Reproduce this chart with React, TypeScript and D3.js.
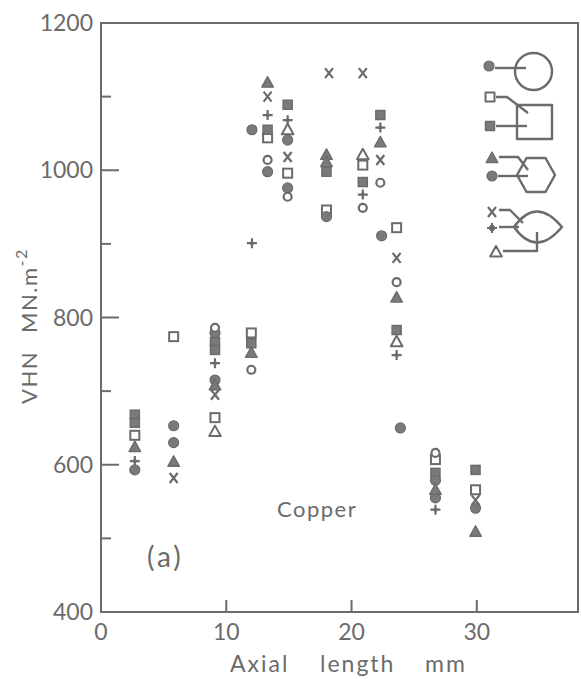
import React from 'react';
import * as d3 from 'd3';

// ---- axis ticks ----
const xTickValues = [10, 20, 30];
const xTickLabels = ['0', '10', '20', '30'];
const yTickValues = [400, 600, 800, 1000, 1200];
const yMajorInner = [600, 800, 1000];
const yMinorTicks = [500, 700, 900, 1100];

// ---- data: [axial length mm, VHN] per marker type ----
const filledCircle: [number, number][] = [
  [2.7, 593], [5.8, 653], [5.8, 630], [9.1, 779], [9.1, 715], [12.05, 1055],
  [13.3, 998], [14.9, 1041], [14.9, 976], [18.0, 937], [22.4, 911], [23.9, 650],
  [26.7, 579], [26.7, 555], [29.9, 541],
];
const openCircle: [number, number][] = [
  [9.1, 786], [12.0, 729], [13.3, 1014], [14.9, 964], [20.9, 949], [22.3, 983],
  [23.6, 848], [26.7, 616],
];
const openSquare: [number, number][] = [
  [2.7, 640], [5.8, 774], [9.1, 664], [12.0, 779], [13.3, 1044], [14.9, 996],
  [18.0, 946], [20.9, 1007], [23.6, 922], [26.7, 607], [29.9, 566],
];
const filledSquare: [number, number][] = [
  [2.7, 668], [2.7, 657], [9.1, 767], [9.1, 756], [12.0, 765], [13.3, 1055],
  [14.9, 1089], [18.0, 998], [20.9, 984], [22.3, 1075], [23.6, 783], [26.7, 589],
  [29.9, 593],
];
const filledTriangle: [number, number][] = [
  [2.7, 624], [5.8, 604], [9.1, 708], [12.0, 752], [13.3, 1119], [18.0, 1021],
  [18.0, 1011], [22.3, 1038], [23.6, 827], [26.7, 566], [29.9, 509],
];
const crossMark: [number, number][] = [
  [5.8, 582], [9.1, 695], [13.3, 1100], [14.9, 1018], [18.2, 1132], [20.9, 1132],
  [22.3, 1014], [23.6, 881], [29.9, 552],
];
const plusMark: [number, number][] = [
  [2.7, 605], [9.1, 738], [12.05, 901], [13.3, 1075], [14.9, 1068], [20.9, 967],
  [22.3, 1058], [23.6, 749], [26.7, 539],
];
const openTriangle: [number, number][] = [
  [9.1, 645], [14.9, 1055], [20.9, 1021], [23.6, 767],
];

const W = 581;
const H = 679;
const INK = '#6b6b6b';
const FILL = '#7a7a7a';
const FONT = 'Lato, "DejaVu Sans", sans-serif';

const x = d3.scaleLinear().domain([0, 38]).range([101, 577]);
const y = d3.scaleLinear().domain([400, 1200]).range([612, 23]);

type MType = 'fc' | 'oc' | 'os' | 'fs' | 'ft' | 'ot' | 'x' | 'p';

function Marker({ t, cx, cy }: { t: MType; cx: number; cy: number }) {
  const tr = `translate(${cx},${cy})`;
  switch (t) {
    case 'fc':
      return <circle transform={tr} r={5} fill={FILL} stroke={INK} strokeWidth={1.2} />;
    case 'oc':
      return <circle transform={tr} r={4} fill="white" stroke={INK} strokeWidth={2.2} />;
    case 'os':
      return <rect transform={tr} x={-4.5} y={-4.5} width={9} height={9} fill="white" stroke={INK} strokeWidth={2} />;
    case 'fs':
      return <rect transform={tr} x={-4.5} y={-4.5} width={9} height={9} fill={FILL} stroke={INK} strokeWidth={1.5} />;
    case 'ft':
      return <path transform={tr} d="M0,-6L5.8,4.5L-5.8,4.5Z" fill={FILL} stroke={INK} strokeWidth={1.4} strokeLinejoin="round" />;
    case 'ot':
      return <path transform={tr} d="M0,-6L5.8,4.5L-5.8,4.5Z" fill="white" stroke={INK} strokeWidth={2} strokeLinejoin="round" />;
    case 'x':
      return <path transform={tr} d="M-4,-5L4,5M4,-5L-4,5" stroke={INK} strokeWidth={2.2} fill="none" />;
    case 'p':
      return (
        <g transform={tr}>
          <path d="M-5,0L5,0M0,-5L0,5" stroke={INK} strokeWidth={2.2} fill="none" />
          <circle r={2} fill={INK} />
        </g>
      );
  }
  return null;
}

const series: { t: MType; data: [number, number][] }[] = [
  { t: 'os', data: openSquare },
  { t: 'fs', data: filledSquare },
  { t: 'fc', data: filledCircle },
  { t: 'oc', data: openCircle },
  { t: 'ft', data: filledTriangle },
  { t: 'ot', data: openTriangle },
  { t: 'x', data: crossMark },
  { t: 'p', data: plusMark },
];

function Legend() {
  const sw = 2.4;
  return (
    <g stroke={INK} fill="none" strokeWidth={sw} strokeLinejoin="round">
      {/* circle */}
      <Marker t="fc" cx={489} cy={66} />
      <line x1={495} y1={68} x2={526} y2={68} />
      <circle cx={533.5} cy={71.5} r={18.5} />
      {/* square */}
      <Marker t="os" cx={490} cy={97} />
      <polyline points="496,97 507,97 528,113" />
      <Marker t="fs" cx={490} cy={126} />
      <line x1={496} y1={126} x2={527} y2={126} />
      <rect x={517} y={105} width={35} height={34} />
      {/* hexagon */}
      <Marker t="ft" cx={492} cy={158} />
      <polyline points="499,157 518,157 528,170" />
      <Marker t="fc" cx={492} cy={176} />
      <line x1={498} y1={176} x2={528} y2={176} />
      <path d="M517,175L526.5,158L545.5,158L555,175L545.5,192L526.5,192Z" />
      {/* lens */}
      <Marker t="x" cx={492} cy={212} />
      <polyline points="499,210 510,210 523,223" />
      <Marker t="p" cx={492} cy={228} />
      <line x1={499} y1={227} x2={519} y2={227} />
      <path d="M514,227Q536,196 562,227Q536,258 514,227Z" />
      <Marker t="ot" cx={496} cy={252} />
      <polyline points="503,251 537,251 537,232" />
    </g>
  );
}

export default function App() {
  return (
    <svg width={W} height={H} style={{ position: 'absolute', left: 0, top: 0, background: 'white' }}>
      <rect width={W} height={H} fill="white" />
      {/* frame */}
      <rect x={101} y={23} width={477} height={589} fill="none" stroke={INK} strokeWidth={2} />
      {/* y ticks */}
      {yMajorInner.map((v) => (
        <line key={'ym' + v} x1={101} x2={119} y1={y(v)} y2={y(v)} stroke={INK} strokeWidth={2} />
      ))}
      {yMinorTicks.map((v) => (
        <line key={'yn' + v} x1={101} x2={111} y1={y(v)} y2={y(v)} stroke={INK} strokeWidth={2} />
      ))}
      {xTickValues.map((v) => (
        <line key={'xt' + v} x1={x(v)} x2={x(v)} y1={612} y2={600} stroke={INK} strokeWidth={2} />
      ))}
      {/* y tick labels */}
      {yTickValues.map((v) => (
        <text key={'yl' + v} x={93} y={y(v) + 8} textAnchor="end" fontSize={23} fill={INK} fontFamily={FONT}>
          {String(v)}
        </text>
      ))}
      {/* x tick labels */}
      {xTickLabels.map((s) => (
        <text key={'xl' + s} x={x(+s)} y={640} textAnchor="middle" fontSize={23} fill={INK} fontFamily={FONT}>
          {s}
        </text>
      ))}
      {/* axis titles */}
      <text y={672} fontSize={23} fill={INK} fontFamily={FONT} letterSpacing={2}>
        <tspan x={230}>Axial</tspan>
        <tspan x={320}>length</tspan>
        <tspan x={425}>mm</tspan>
      </text>
      <text transform="translate(37,404) rotate(-90)" fontSize={22} fill={INK} fontFamily={FONT} letterSpacing={1.5}>
        VHN
      </text>
      <text transform="translate(37,333) rotate(-90)" fontSize={22} fill={INK} fontFamily={FONT} letterSpacing={1.5}>
        MN.m
        <tspan dy={-10} fontSize={16}>-2</tspan>
      </text>
      <text x={277} y={517} fontSize={22} fill={INK} fontFamily={FONT} letterSpacing={1.5}>Copper</text>
      <text x={147} y={567} fontSize={28} fill={INK} fontFamily={FONT} letterSpacing={3}>(a)</text>
      {/* data */}
      {series.map((s) =>
        s.data.map((d, i) => <Marker key={s.t + i} t={s.t} cx={x(d[0])} cy={y(d[1])} />)
      )}
      <Legend />
    </svg>
  );
}
